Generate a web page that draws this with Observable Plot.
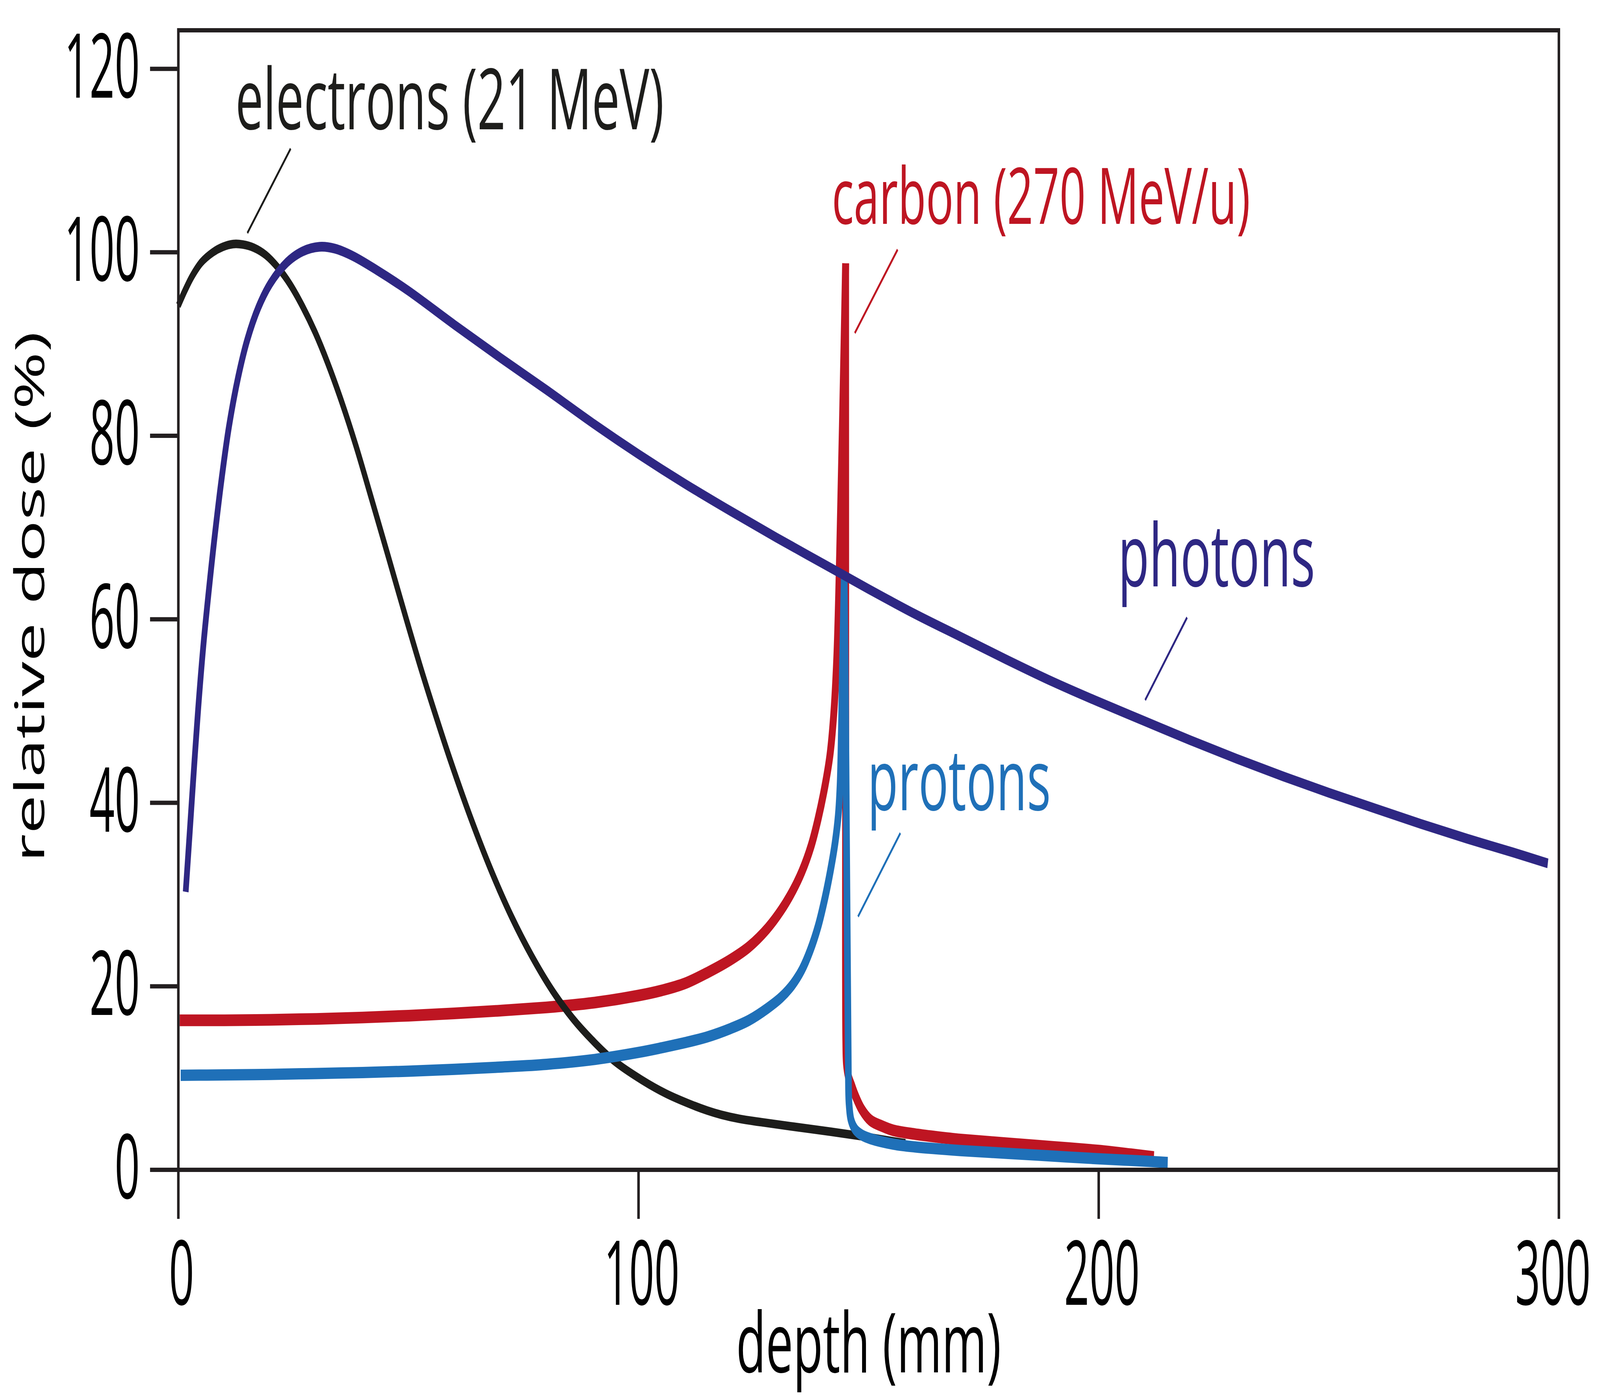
<!DOCTYPE html>
<html>
<head>
<meta charset="utf-8">
<script src="https://cdn.jsdelivr.net/npm/d3@7"></script>
<script src="https://cdn.jsdelivr.net/npm/@observablehq/plot@0.6"></script>
<style>
  html, body { margin: 0; padding: 0; background: #fff; overflow: hidden; width: 100vw; height: 100vh; }
  #chart { width: 100vw; height: 100vh; overflow: hidden; }
  #chart svg { display: block; }
</style>
</head>
<body>
<div id="chart"></div>
<script>
// ---------- data (depth in mm, relative dose in %) ----------
const xTicks = [0, 100, 200, 300];
const yTicks = [0, 20, 40, 60, 80, 100, 120];
const xLabel = "depth (mm)";
const yLabel = "relative dose (%)";

const electrons = [[0,94.2],[1.5,95.9],[3,97.4],[5,98.9],[7.5,100],[9.7,100.6],[11.9,100.9],[14,100.85],[16.4,100.5],[19,99.7],[21.7,98.3],[24.3,96.5],[27,94.1],[29.7,91.3],[32.4,88],[35.5,83.7],[38.6,78.9],[42,73.1],[45.7,66.7],[49.2,60.6],[52.8,54.5],[56,49.4],[59,44.8],[63.5,38.4],[68,32.6],[72.4,27.6],[76.8,23.3],[81.2,19.6],[85.7,16.5],[90,14.1],[94.6,11.9],[100.7,9.8],[106,8.3],[111,7.2],[115,6.45],[118,6.0],[122,5.55],[126.6,5.2],[133,4.75],[141.8,4.15],[149.4,3.6],[155.4,3.1],[158,2.9]];

const photons = [[1.6,30.3],[2.5,37],[3.5,44.5],[4.5,51.5],[5.5,57.5],[6.8,64],[8,69.5],[9.4,75.3],[11,81],[13,86.4],[15,90.5],[17.4,94],[20,96.6],[23.6,98.9],[27,100.1],[30.7,100.6],[34,100.4],[37.9,99.6],[43,98.1],[50,95.8],[60,92.1],[70,88.5],[80,85.0],[90,81.4],[100,78.0],[110,74.8],[120,71.8],[130,68.9],[140,66.1],[150,63.3],[160,60.6],[170,58.1],[180,55.6],[190,53.2],[200,51.0],[210,48.9],[220,46.8],[230,44.8],[240,42.9],[250,41.1],[260,39.4],[270,37.7],[280,36.1],[290,34.6],[297.6,33.4]];

const carbonRise = [[0.3,16.3],[10,16.3],[20,16.35],[30,16.45],[40,16.6],[50,16.8],[60,17.05],[70,17.35],[80,17.7],[90,18.2],[100,19.0],[105,19.55],[110,20.3],[115,21.5],[120,22.9],[124,24.3],[128,26.3],[131,28.3],[133.5,30.4],[135.5,32.5],[137.5,35.3],[139,38.2],[140.5,41.8],[141.6,45.2],[142.4,49.5],[143.1,56],[143.7,67],[144.3,81],[145.0,98.8]];
const carbonFall = [[145.0,98.8],[145.02,50],[145.05,14],[145.2,11.5],[145.6,10.2],[146.3,9.2],[147.1,8.1],[148.5,6.6],[150.4,5.4],[153,4.75],[155.4,4.3],[160,3.9],[164.6,3.6],[170,3.3],[180,2.9],[190,2.5],[200,2.1],[207,1.7],[212,1.4]];

const protonsRise = [[0.5,10.3],[10,10.35],[20,10.4],[30,10.5],[40,10.6],[50,10.75],[60,10.95],[70,11.2],[80,11.5],[90,12.0],[100,12.8],[105,13.3],[110,13.85],[115,14.5],[120,15.4],[124,16.3],[128,17.6],[131,18.8],[133.5,20.2],[135.5,21.8],[137.3,23.9],[139,26.5],[140.5,29.6],[141.7,32.6],[142.7,35.6],[143.4,38.6],[143.8,42],[144.1,48.5],[144.35,56],[144.7,64.7]];
const protonsFall = [[144.7,64.7],[145.0,50],[145.2,36],[145.45,20],[145.6,10.5],[145.75,7.2],[146.2,5.4],[147.1,4.4],[148.5,3.8],[150.4,3.4],[155.4,2.8],[160,2.5],[170,2.1],[180,1.8],[190,1.5],[200,1.2],[208,1.0],[215,0.8]];

// annotation labels and their leader lines (data coordinates)
const labels   = ["electrons (21 MeV)", "carbon (270 MeV/u)", "photons", "protons"];
const labelX   = [12.4, 142.0, 204.2, 149.75];
const labelY   = [113.4, 103.1, 63.6, 39.2];
const leaderX1 = [24.4, 156.3, 219.2, 156.9];
const leaderY1 = [111.3, 100.3, 60.2, 36.7];
const leaderX2 = [15.0, 147.0, 210.1, 147.7];
const leaderY2 = [102.1, 91.2, 51.2, 27.6];

// ---------- styles ----------
const style = {
  colors: ["#1d1d1b", "#be1522", "#2e2783", "#1f70b8"],
  labelFont: [217, 200, 222, 218],
  labelWidth: [1700, 1813, 768, 718],
  digitWidth: 110,
  axisColor: "#231f20"
};
const W = 6984, H = 3576;

const rows = (arr, seg) => arr.map(([x, y]) => ({x, y, seg}));
const lineStyle = (color, w) => ({
  x: "x", y: "y", z: "seg", stroke: color, strokeWidth: w,
  curve: "catmull-rom", strokeLinecap: "butt", strokeLinejoin: "round"
});
const idx = labels.map((_, i) => i);

const chart = Plot.plot({
  width: W,
  height: H,
  marginLeft: 778,
  marginRight: 180,
  marginTop: 77,
  marginBottom: 582,
  x: {domain: [0, 300]},
  y: {domain: [0, 124.2]},
  color: {type: "identity"},
  style: {fontFamily: "'Open Sans', 'Noto Sans', sans-serif", background: "#fff", color: "#000", overflow: "hidden"},
  marks: [
    Plot.line(rows(carbonRise, "a").concat(rows(carbonFall, "b")), lineStyle(style.colors[1], 30)),
    Plot.line(rows(electrons, "a"), lineStyle(style.colors[0], 22)),
    Plot.line(rows(protonsRise, "a").concat(rows(protonsFall, "b")), lineStyle(style.colors[3], 29)),
    Plot.line(rows(photons, "a"), lineStyle(style.colors[2], 25)),
    Plot.link(idx, {
      x1: i => leaderX1[i], y1: i => leaderY1[i], x2: i => leaderX2[i], y2: i => leaderY2[i],
      stroke: i => style.colors[i], strokeWidth: 7, strokeLinecap: "butt"
    }),
    Plot.text(idx, {
      x: i => labelX[i], y: i => labelY[i], text: i => labels[i],
      fill: i => style.colors[i], fontSize: i => style.labelFont[i],
      textAnchor: "start", lineAnchor: "bottom", ariaLabel: "series label"
    }),
    Plot.frame({stroke: style.axisColor, strokeWidth: 11}),
    Plot.axisY({ticks: yTicks, tickSize: 123, tickPadding: 45, stroke: style.axisColor, strokeWidth: 11,
                fontSize: 230, label: null, tickFormat: d => String(d)}),
    Plot.axisX({ticks: xTicks, tickSize: 126, stroke: style.axisColor, strokeWidth: 11, text: null, label: null}),
    Plot.axisX({ticks: xTicks, tickSize: 0, tickPadding: 182, dx: 14, fontSize: 230, label: null,
                tickFormat: d => String(d)}),
    Plot.text([yLabel], {frameAnchor: "left", rotate: -90, dx: -586, dy: -8, lineAnchor: "bottom",
                         textAnchor: "middle", fontSize: 178, ariaLabel: "y title"}),
    Plot.text([xLabel], {frameAnchor: "bottom", dy: 518, lineAnchor: "bottom", textAnchor: "middle",
                         fontSize: 212, ariaLabel: "x title"})
  ]
});

// fit text widths to the condensed lettering of the original
function fit(t, w) {
  t.setAttribute("textLength", w);
  t.setAttribute("lengthAdjust", "spacingAndGlyphs");
}
chart.querySelectorAll('g[aria-label="y-axis tick label"] text, g[aria-label="x-axis tick label"] text')
  .forEach(t => fit(t, style.digitWidth * t.textContent.trim().length));
// the last x tick label sits against the right edge: anchor it by its end, just inside the edge
chart.querySelectorAll('g[aria-label="x-axis tick label"] text').forEach(t => {
  const s = t.textContent.trim();
  if (s === String(xTicks[xTicks.length - 1])) {
    t.setAttribute("text-anchor", "end");
    t.setAttribute("dx", style.digitWidth * s.length / 2 - 40);
  }
});
chart.querySelectorAll('g[aria-label="series label"] text').forEach(t => {
  const i = labels.indexOf(t.textContent.trim());
  if (i >= 0) fit(t, style.labelWidth[i]);
});
chart.querySelectorAll('g[aria-label="y title"] text').forEach(t => fit(t, 1482));
chart.querySelectorAll('g[aria-label="x title"] text').forEach(t => fit(t, 1095));

// let the 6984×3576 drawing fill whatever viewport the page is photographed in
chart.setAttribute("viewBox", `0 0 ${W} ${H}`);
chart.setAttribute("preserveAspectRatio", "none");
chart.setAttribute("width", "100%");
chart.setAttribute("height", "100%");
chart.style.width = "100vw";
chart.style.height = "100vh";
chart.style.maxWidth = "none";

document.getElementById("chart").appendChild(chart);
</script>
</body>
</html>
